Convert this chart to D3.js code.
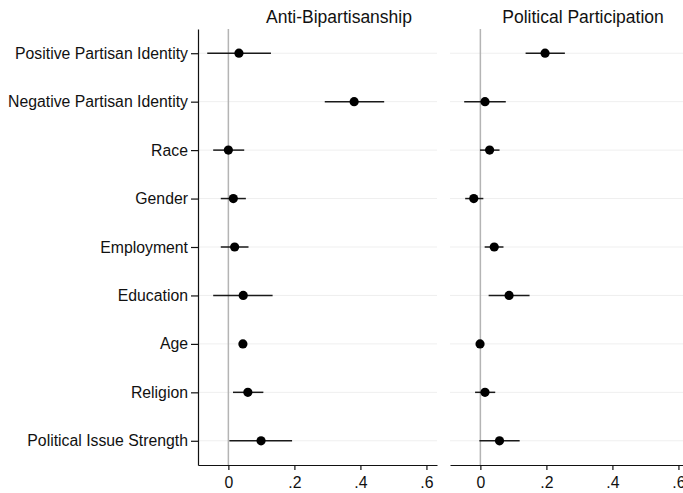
<!DOCTYPE html>
<html>
<head>
  <meta charset="utf-8">
  <title>Anti-Bipartisanship and Political Participation</title>
  <style>
    body{
      margin: 0;
      background: white;
    }
    text{
      font-family: "Liberation Sans", Arial, Helvetica, sans-serif;
      fill: #111;
    }
  </style>
  <script src="https://d3js.org/d3.v7.min.js"></script>
</head>
<body>
  <div id="container"></div>

  <script>
    //*******DATA*******
    var predictors = ["Positive Partisan Identity", "Negative Partisan Identity", "Race", "Gender",
                      "Employment", "Education", "Age", "Religion", "Political Issue Strength"];
    var panels = ["Anti-Bipartisanship", "Political Participation"];

    // point estimates and 95% bounds, one per predictor
    var antiEst = [0.032, 0.381, 0.000, 0.015, 0.019, 0.045, 0.044, 0.059, 0.099];
    var antiLo  = [-0.064, 0.292, -0.046, -0.023, -0.023, -0.046, 0.040, 0.014, 0.003];
    var antiHi  = [0.129, 0.472, 0.048, 0.053, 0.061, 0.134, 0.048, 0.106, 0.193];

    var partEst = [0.196, 0.014, 0.028, -0.020, 0.042, 0.087, -0.001, 0.014, 0.058];
    var partLo  = [0.137, -0.049, -0.001, -0.046, 0.013, 0.025, -0.004, -0.016, -0.003];
    var partHi  = [0.256, 0.077, 0.058, 0.009, 0.070, 0.149, 0.002, 0.045, 0.119];

    var xTicks = [0, 0.2, 0.4, 0.6];
    var xTickLabels = ["0", ".2", ".4", ".6"];

    //*******CONSTANTS*******
    const width = 683,
          height = 493;
    const plotTop = 29, plotBottom = 465;
    const panelX = [[198, 437], [450, 689]];
    const titleX = [339, 583];

    var svg = d3.select("#container")
      .append("svg")
      .attr("width", width)
      .attr("height", height)
      .style("display", "block");

    var y = d3.scalePoint()
      .domain(predictors)
      .range([plotTop, plotBottom])
      .padding(0.5);

    var panelData = [
      {est: antiEst, lo: antiLo, hi: antiHi},
      {est: partEst, lo: partLo, hi: partHi}
    ];

    panelData.forEach(function(p, k){
      var x = d3.scaleLinear()
        .domain([-0.092, 0.632])
        .range(panelX[k]);

      var rows = predictors.map(function(name, i){
        return {name: name, est: p.est[i], lo: p.lo[i], hi: p.hi[i]};
      });

      var g = svg.append("g");

      // light horizontal gridlines
      g.selectAll(".grid")
        .data(predictors)
        .enter()
        .append("line")
        .attr("x1", panelX[k][0])
        .attr("x2", panelX[k][1])
        .attr("y1", function(d){return y(d);})
        .attr("y2", function(d){return y(d);})
        .attr("stroke", "#efefef")
        .attr("stroke-width", 1);

      // zero reference line
      g.append("line")
        .attr("x1", x(0))
        .attr("x2", x(0))
        .attr("y1", plotTop)
        .attr("y2", plotBottom)
        .attr("stroke", "#b4b4b4")
        .attr("stroke-width", 1.5);

      // confidence intervals
      g.selectAll(".ci")
        .data(rows)
        .enter()
        .append("line")
        .attr("x1", function(d){return x(d.lo);})
        .attr("x2", function(d){return x(d.hi);})
        .attr("y1", function(d){return y(d.name);})
        .attr("y2", function(d){return y(d.name);})
        .attr("stroke", "#1a1a1a")
        .attr("stroke-width", 1.5);

      // point estimates
      g.selectAll(".pt")
        .data(rows)
        .enter()
        .append("circle")
        .attr("cx", function(d){return x(d.est);})
        .attr("cy", function(d){return y(d.name);})
        .attr("r", 4.6)
        .attr("fill", "black");

      // bottom axis
      var xAxis = g.append("g")
        .attr("transform", "translate(0," + plotBottom + ")")
        .call(d3.axisBottom(x)
          .tickValues(xTicks)
          .tickFormat(function(d, i){return xTickLabels[i];})
          .tickSize(5)
          .tickPadding(7)
          .tickSizeOuter(0));
      xAxis.select(".domain").attr("stroke", "#111").attr("stroke-width", 1.2);
      xAxis.selectAll(".tick line").attr("stroke", "#111").attr("stroke-width", 1.2);
      xAxis.selectAll(".tick text")
        .attr("font-size", "15.8px")
        .attr("fill", "#111")
        .style("font-family", "'Liberation Sans', Arial, sans-serif");

      // panel title
      g.append("text")
        .attr("x", titleX[k])
        .attr("y", 23)
        .attr("text-anchor", "middle")
        .attr("font-size", "17.5px")
        .text(panels[k]);
    });

    // left axis with predictor names
    var yAxis = svg.append("g")
      .attr("transform", "translate(" + panelX[0][0] + ",0)")
      .call(d3.axisLeft(y)
        .tickSize(7)
        .tickPadding(3)
        .tickSizeOuter(0));
    yAxis.select(".domain").attr("stroke", "#111").attr("stroke-width", 1.2);
    yAxis.selectAll(".tick line").attr("stroke", "#111").attr("stroke-width", 1.2);
    yAxis.selectAll(".tick text")
      .attr("font-size", "15.8px")
      .attr("fill", "#111")
      .style("font-family", "'Liberation Sans', Arial, sans-serif");
  </script>
</body>
</html>
